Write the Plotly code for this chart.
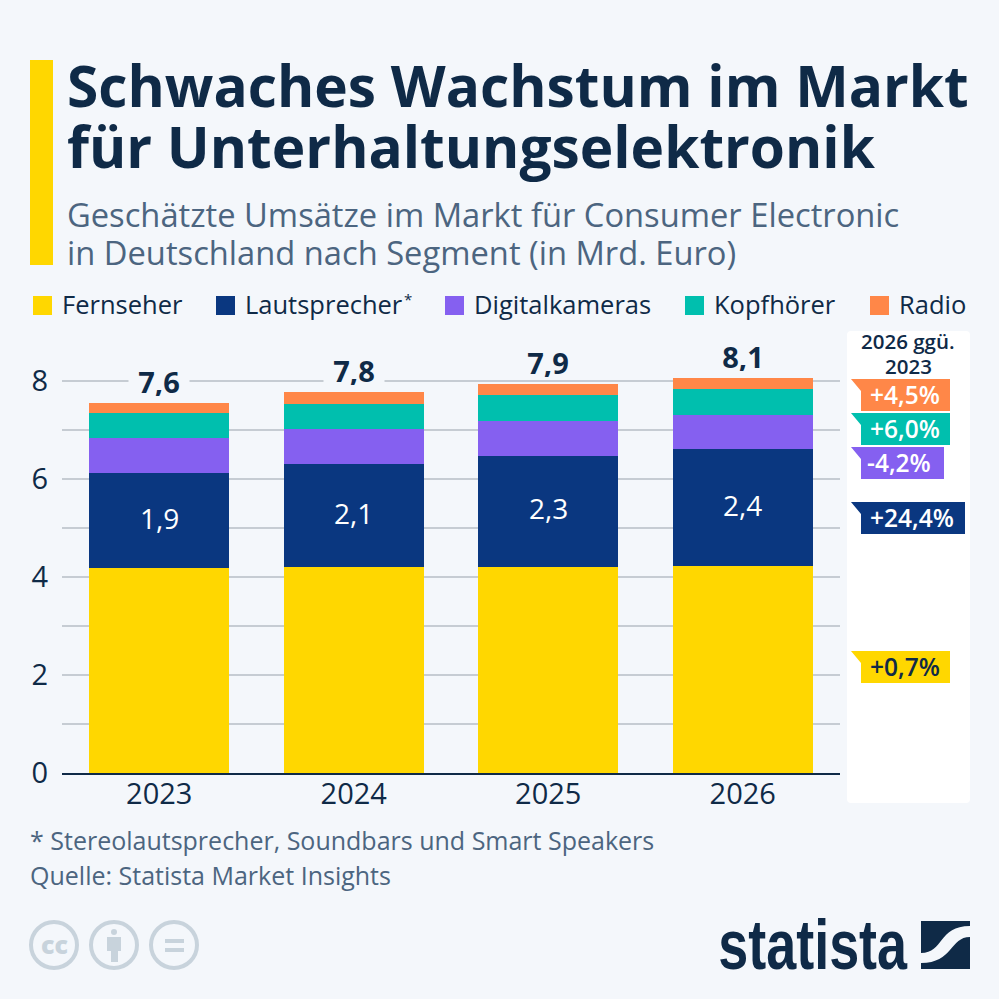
"""Statista-Grafik: Umsaetze Unterhaltungselektronik in Deutschland."""

import plotly.graph_objects as go

years = ["2023", "2024", "2025", "2026"]
fernseher = [4.18, 4.20, 4.21, 4.22]
lautsprecher = [1.94, 2.11, 2.26, 2.39]
digitalkameras = [0.72, 0.71, 0.71, 0.70]
kopfhoerer = [0.51, 0.51, 0.53, 0.53]
radio = [0.20, 0.24, 0.23, 0.23]
lautsprecher_labels = ["1,9", "2,1", "2,3", "2,4"]
total_labels = ["7,6", "7,8", "7,9", "8,1"]
y_ticks = [0, 2, 4, 6, 8]

segment_names = ["Fernseher", "Lautsprecher", "Digitalkameras", "Kopfhörer", "Radio"]
change_labels = ["+0,7%", "+24,4%", "-4,2%", "+6,0%", "+4,5%"]

YELLOW = "#ffd700"
NAVY = "#0a3780"
PURPLE = "#8560f0"
TEAL = "#00bfae"
ORANGE = "#ff8748"
DARK = "#0f2a47"
GREY_TEXT = "#4c6580"
BG = "#f4f7fb"
GRID = "#c6ccd3"
ICON = "#c8d3dc"
FONT = "Open Sans"
colors = [YELLOW, NAVY, PURPLE, TEAL, ORANGE]
series = [fernseher, lautsprecher, digitalkameras, kopfhoerer, radio]

SIZE = 999
PLOT_LEFT, PLOT_RIGHT = 62, 840
PLOT_BOTTOM, PLOT_TOP = 773, 345
PX_PER_UNIT = 49


def px(x):
    return x / SIZE


def py(y):
    return 1 - y / SIZE


def text(x, y, s, size, color=DARK, weight=400, anchor="left", font=FONT):
    fig.add_annotation(
        xref="paper", yref="paper", x=px(x), y=py(y), text=s, showarrow=False,
        xanchor=anchor, yanchor="middle", align=anchor,
        font=dict(family=font, size=size, color=color, weight=weight),
    )


def rect(x0, y0, x1, y1, color):
    fig.add_shape(type="rect", xref="paper", yref="paper", x0=px(x0), y0=py(y0), x1=px(x1), y1=py(y1),
                  fillcolor=color, line_width=0, layer="above")


def path(points, color):
    # polygon given in pixel coordinates
    d = "M " + " L ".join(f"{px(x):.5f},{py(y):.5f}" for x, y in points) + " Z"
    fig.add_shape(type="path", xref="paper", yref="paper", path=d, fillcolor=color, line_width=0, layer="above")


fig = go.Figure()
for name, values, color in zip(segment_names, series, colors):
    fig.add_bar(x=years, y=values, name=name, marker=dict(color=color, line_width=0))

fig.update_layout(
    width=SIZE, height=SIZE, margin=dict(l=0, r=0, t=0, b=0), autosize=False,
    paper_bgcolor=BG, plot_bgcolor=BG, barmode="stack", bargap=0.28, showlegend=False,
    font=dict(family=FONT, color=DARK),
    xaxis=dict(domain=[px(PLOT_LEFT), px(PLOT_RIGHT)], type="category", range=[-0.5, 3.5], automargin=False,
               showgrid=False, ticks="", tickfont=dict(size=29, color=DARK), ticklabelstandoff=-6,
               showline=True, linecolor=DARK, linewidth=1.5),
    yaxis=dict(domain=[py(PLOT_BOTTOM), py(PLOT_TOP)], range=[0, (PLOT_BOTTOM - PLOT_TOP) / PX_PER_UNIT],
               automargin=False, tickvals=y_ticks, ticktext=[str(v) for v in y_ticks], ticks="",
               tickfont=dict(size=29, color=DARK), ticklabelstandoff=13,
               showgrid=True, gridcolor=GRID, gridwidth=1.5, zeroline=False,
               minor=dict(dtick=1, showgrid=True, gridcolor=GRID, gridwidth=1.5)),
)

# Summen ueber den Balken, Hintergrundfarbe unterbricht die Gitterlinien
for i, (label, *parts) in enumerate(zip(total_labels, *series)):
    fig.add_annotation(
        x=i, y=sum(parts), text=f"<b>{label}</b>", showarrow=False, yanchor="bottom", yshift=6,
        font=dict(family=FONT, size=29, color=DARK), bgcolor=BG, borderpad=0,
        width=60, height=30,
    )

# Werte im Lautsprecher-Segment
for i, (label, base, value) in enumerate(zip(lautsprecher_labels, fernseher, lautsprecher)):
    fig.add_annotation(
        x=i, y=base + value / 2, text=label, showarrow=False, yshift=3,
        font=dict(family=FONT, size=28, color="white"),
    )

# Titelblock
rect(30, 60, 53, 265, YELLOW)
text(65, 85, "Schwaches Wachstum im Markt", 56.8, weight=700)
text(65, 146, "für Unterhaltungselektronik", 56.8, weight=700)
text(65, 214, "Geschätzte Umsätze im Markt für Consumer Electronic", 32.7, GREY_TEXT)
text(65, 253, "in Deutschland nach Segment (in Mrd. Euro)", 32.7, GREY_TEXT)

# Legende
legend_x = [33, 216, 445, 685, 870]
for x, name, color in zip(legend_x, segment_names, colors):
    rect(x, 296, x + 19, 315, color)
    text(x + 27, 304, name, 25.5)
text(402, 299, "*", 15)

# Spalte rechts
fig.add_shape(
    type="path", xref="paper", yref="paper", layer="below", fillcolor="white", line_width=0,
    path=(f"M {px(851)},{py(331)} L {px(966)},{py(331)} Q {px(970)},{py(331)} {px(970)},{py(335)} "
          f"L {px(970)},{py(799)} Q {px(970)},{py(803)} {px(966)},{py(803)} "
          f"L {px(851)},{py(803)} Q {px(847)},{py(803)} {px(847)},{py(799)} "
          f"L {px(847)},{py(335)} Q {px(847)},{py(331)} {px(851)},{py(331)} Z"),
)
text(908, 341, "2026 ggü.", 20.5, weight=600, anchor="center")
text(908, 366, "2023", 20.5, weight=600, anchor="center")

callout_top = [651, 502, 447, 413, 379]
callout_right = [950, 965, 944, 950, 950]
callout_center = [905, 912, 899, 905, 905]
for label, color, top, right, center in zip(change_labels, colors, callout_top, callout_right, callout_center):
    path([(851, top), (right, top), (right, top + 32), (861, top + 32), (861, top + 12)], color)
    text(center, top + 15, label, 24.5, DARK if color == YELLOW else "white", weight=600, anchor="center")

# Fussnoten
text(28, 840, "* Stereolautsprecher, Soundbars und Smart Speakers", 25, GREY_TEXT)
text(28, 875, "Quelle: Statista Market Insights", 25, GREY_TEXT)

# CC-Symbole
for cx in [54, 114, 174]:
    fig.add_shape(type="circle", xref="paper", yref="paper", x0=px(cx - 23), y0=py(968), x1=px(cx + 23), y1=py(922),
                  line=dict(color=ICON, width=4), fillcolor="rgba(0,0,0,0)", layer="above")
text(54, 944, "cc", 25, ICON, weight=800, anchor="center")
rect(107, 937, 121, 951, ICON)
rect(111, 951, 118, 962, ICON)
fig.add_shape(type="circle", xref="paper", yref="paper", x0=px(111), y0=py(935), x1=px(117), y1=py(929),
              fillcolor=ICON, line_width=0, layer="above")
rect(165, 939, 184, 943, ICON)
rect(165, 948, 184, 952, ICON)

# Logo: Text wird per Skript schmaler gezogen, es gibt keine Narrow-Schrift
text(813, 945, "statista", 70, DARK, weight=700, anchor="center", font="Liberation Sans")
rect(921, 921, 970, 969, DARK)
fig.add_shape(
    type="path", xref="paper", yref="paper", fillcolor=BG, line_width=0, layer="above",
    path=(f"M {px(921)},{py(953)} C {px(944)},{py(953)} {px(938)},{py(926)} {px(970)},{py(926)} "
          f"L {px(970)},{py(937)} C {px(950)},{py(937)} {px(953)},{py(963)} {px(921)},{py(963)} Z"),
)

post = """
document.body.style.margin = '0';
document.body.style.background = '#f4f7fb';
document.querySelectorAll('text.annotation-text').forEach(function (t) {
  if (t.textContent === 'statista') {
    var b = t.getBBox(), cx = b.x + b.width / 2;
    t.setAttribute('transform', 'translate(' + cx + ',0) scale(0.77,1) translate(' + (-cx) + ',0)');
  }
});
"""
fig.write_html("out.html", config={"displayModeBar": False}, post_script=post)
